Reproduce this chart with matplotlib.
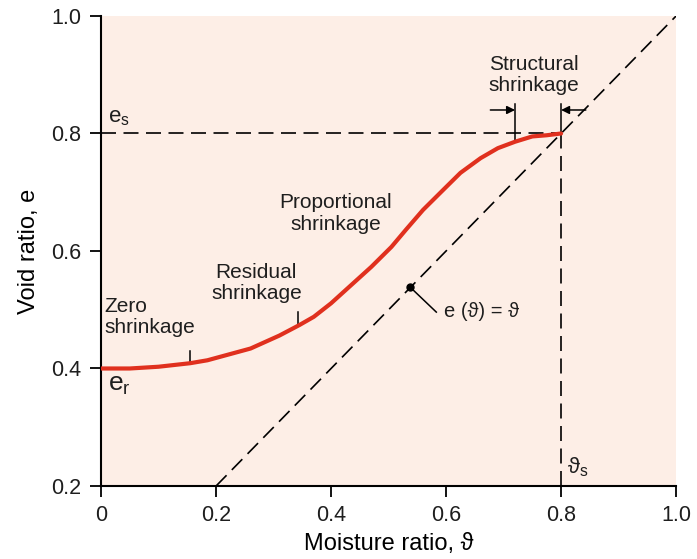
import matplotlib
matplotlib.use("Agg")
import matplotlib.pyplot as plt

plt.rcParams['font.family'] = ['Liberation Sans', 'DejaVu Sans']
plt.rcParams['text.color'] = '#1e1e1e'

# Shrinkage curve: void ratio e versus moisture ratio theta
theta = [0.0, 0.05, 0.10, 0.155, 0.185, 0.26, 0.31, 0.345, 0.37, 0.40, 0.435,
         0.47, 0.505, 0.53, 0.56, 0.595, 0.625, 0.66, 0.69, 0.72, 0.75, 0.775, 0.80]
void_e = [0.400, 0.400, 0.403, 0.409, 0.414, 0.434, 0.456, 0.474, 0.488, 0.511, 0.542,
          0.573, 0.607, 0.636, 0.670, 0.704, 0.733, 0.758, 0.775, 0.786, 0.795, 0.797, 0.800]

e_s = 0.8
e_r = 0.4
theta_s = 0.8

x_ticks = [0, 0.2, 0.4, 0.6, 0.8, 1.0]
x_tick_labels = ["0", "0.2", "0.4", "0.6", "0.8", "1.0"]
y_ticks = [0.2, 0.4, 0.6, 0.8, 1.0]
y_tick_labels = ["0.2", "0.4", "0.6", "0.8", "1.0"]

fig = plt.figure(figsize=(6.97, 5.59), dpi=100)
ax = fig.add_axes([0.145, 0.1306, 0.825, 0.8408])
ax.set_facecolor('#fdeee6')
ax.set_xlim(0, 1)
ax.set_ylim(0.2, 1.0)

dash = (0, (9, 4.5))
# Saturation line e = theta
ax.plot([0.2, 1.0], [0.2, 1.0], color='black', lw=1.2, linestyle=dash, zorder=2)
# e_s and theta_s guides
ax.plot([0, theta_s], [e_s, e_s], color='black', lw=1.2, linestyle=dash, zorder=2)
ax.plot([theta_s, theta_s], [0.2, e_s], color='black', lw=1.2, linestyle=dash, zorder=2)

ax.plot(theta, void_e, color='#e0301e', lw=3, solid_capstyle='round', zorder=4)

# Zone markers on the curve
ax.plot([0.155, 0.155], [0.409, 0.430], color='black', lw=1.1, zorder=3)
ax.plot([0.342, 0.342], [0.474, 0.496], color='black', lw=1.1, zorder=3)

# Structural shrinkage bracket
ax.plot([0.72, 0.72], [0.786, 0.85], color='black', lw=1.1, zorder=3)
ax.plot([0.80, 0.80], [0.80, 0.85], color='black', lw=1.1, zorder=3)
ax.annotate('', xy=(0.72, 0.84), xytext=(0.677, 0.84),
            arrowprops=dict(arrowstyle='-|>', color='black', lw=1.1,
                            mutation_scale=12, shrinkA=0, shrinkB=0))
ax.annotate('', xy=(0.80, 0.84), xytext=(0.843, 0.84),
            arrowprops=dict(arrowstyle='-|>', color='black', lw=1.1,
                            mutation_scale=12, shrinkA=0, shrinkB=0))

# e(theta) = theta callout
ax.plot([0.538], [0.538], 'o', color='black', ms=5, zorder=5)
ax.plot([0.538, 0.583], [0.538, 0.496], color='black', lw=1.1, zorder=5)
ax.text(0.597, 0.497, 'e (ϑ) = ϑ', fontsize=14.5, va='center', ha='left')

ax.text(0.753, 0.900, 'Structural\nshrinkage', fontsize=15, ha='center', va='center',
        linespacing=1.15)
ax.text(0.408, 0.664, 'Proportional\nshrinkage', fontsize=15, ha='center', va='center',
        linespacing=1.15)
ax.text(0.27, 0.546, 'Residual\nshrinkage', fontsize=15, ha='center', va='center',
        linespacing=1.15)
ax.text(0.005, 0.488, 'Zero\nshrinkage', fontsize=15, ha='left', va='center',
        linespacing=1.15)

ax.text(0.012, 0.81, r'e$_\mathregular{s}$', fontsize=16, ha='left', va='bottom')
ax.text(0.012, 0.392, r'e$_\mathregular{r}$', fontsize=19, ha='left', va='top')
ax.text(0.81, 0.212, r'ϑ$_\mathregular{s}$', fontsize=16, ha='left', va='bottom')

ax.set_xticks(x_ticks)
ax.set_xticklabels(x_tick_labels)
ax.set_yticks(y_ticks)
ax.set_yticklabels(y_tick_labels)
ax.tick_params(direction='out', length=8, width=1.3, labelsize=15.5, pad=6,
               labelcolor='#1e1e1e')

for side in ('top', 'right'):
    ax.spines[side].set_visible(False)
for side in ('left', 'bottom'):
    ax.spines[side].set_linewidth(1.5)

ax.set_xlabel('Moisture ratio, ϑ', fontsize=17, labelpad=5)
ax.set_ylabel('Void ratio, e', fontsize=17, labelpad=8)

fig.savefig('out.png', dpi=100)
